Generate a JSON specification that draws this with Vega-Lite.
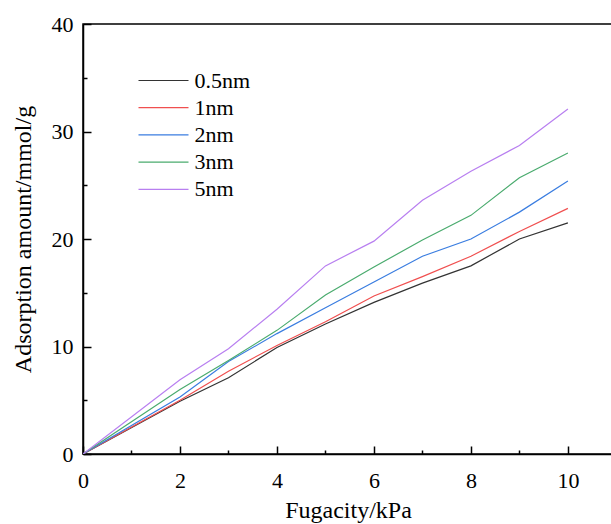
{
  "$schema": "https://vega.github.io/schema/vega-lite/v6.json",
  "width": 530,
  "height": 430,
  "autosize": {"type": "none"},
  "padding": {"left": 83, "top": 24, "right": 0, "bottom": 70},
  "background": "white",
  "config": {
    "font": "Liberation Serif, serif",
    "view": {"stroke": "black", "strokeWidth": 1.5}
  },
  "data": {
    "values": [
      {"series": "0.5nm", "x": 0, "y": 0},
      {"series": "0.5nm", "x": 2, "y": 4.9},
      {"series": "0.5nm", "x": 3, "y": 7.1},
      {"series": "0.5nm", "x": 4, "y": 9.9},
      {"series": "0.5nm", "x": 5, "y": 12.1},
      {"series": "0.5nm", "x": 6, "y": 14.1},
      {"series": "0.5nm", "x": 7, "y": 15.9},
      {"series": "0.5nm", "x": 8, "y": 17.5},
      {"series": "0.5nm", "x": 9, "y": 20.0},
      {"series": "0.5nm", "x": 10, "y": 21.5},
      {"series": "1nm", "x": 0, "y": 0},
      {"series": "1nm", "x": 2, "y": 5.0},
      {"series": "1nm", "x": 3, "y": 7.7},
      {"series": "1nm", "x": 4, "y": 10.1},
      {"series": "1nm", "x": 5, "y": 12.3},
      {"series": "1nm", "x": 6, "y": 14.7},
      {"series": "1nm", "x": 7, "y": 16.5},
      {"series": "1nm", "x": 8, "y": 18.4},
      {"series": "1nm", "x": 9, "y": 20.7},
      {"series": "1nm", "x": 10, "y": 22.85},
      {"series": "2nm", "x": 0, "y": 0},
      {"series": "2nm", "x": 2, "y": 5.3},
      {"series": "2nm", "x": 3, "y": 8.6},
      {"series": "2nm", "x": 4, "y": 11.2},
      {"series": "2nm", "x": 5, "y": 13.6},
      {"series": "2nm", "x": 6, "y": 16.0},
      {"series": "2nm", "x": 7, "y": 18.4},
      {"series": "2nm", "x": 8, "y": 20.0},
      {"series": "2nm", "x": 9, "y": 22.5},
      {"series": "2nm", "x": 10, "y": 25.4},
      {"series": "3nm", "x": 0, "y": 0},
      {"series": "3nm", "x": 2, "y": 6.0},
      {"series": "3nm", "x": 3, "y": 8.7},
      {"series": "3nm", "x": 4, "y": 11.5},
      {"series": "3nm", "x": 5, "y": 14.8},
      {"series": "3nm", "x": 6, "y": 17.4},
      {"series": "3nm", "x": 7, "y": 19.9},
      {"series": "3nm", "x": 8, "y": 22.2},
      {"series": "3nm", "x": 9, "y": 25.7},
      {"series": "3nm", "x": 10, "y": 28.0},
      {"series": "5nm", "x": 0, "y": 0},
      {"series": "5nm", "x": 2, "y": 6.9},
      {"series": "5nm", "x": 3, "y": 9.8},
      {"series": "5nm", "x": 4, "y": 13.46},
      {"series": "5nm", "x": 5, "y": 17.5},
      {"series": "5nm", "x": 6, "y": 19.8},
      {"series": "5nm", "x": 7, "y": 23.6},
      {"series": "5nm", "x": 8, "y": 26.3},
      {"series": "5nm", "x": 9, "y": 28.7},
      {"series": "5nm", "x": 10, "y": 32.1}
    ]
  },
  "mark": {"type": "line", "strokeWidth": 1.2, "clip": true},
  "encoding": {
    "x": {
      "field": "x", "type": "quantitative",
      "scale": {"domain": [0, 10.93], "nice": false, "zero": false},
      "axis": {
        "title": "Fugacity/kPa",
        "grid": false,
        "domainColor": "black", "domainWidth": 1.5,
        "tickColor": "black", "tickWidth": 1.5,
        "labelColor": "black", "titleColor": "black",
        "labelFont": "Liberation Serif, serif", "titleFont": "Liberation Serif, serif",
        "labelFontSize": 22, "titleFontSize": 24, "titleFontWeight": "normal",
        "values": [0, 1, 2, 3, 4, 5, 6, 7, 8, 9, 10],
        "labelExpr": "datum.value % 2 ? '' : datum.label",
        "tickSize": {"condition": {"test": "datum.value % 2 === 1", "value": -4}, "value": -8},
        "labelPadding": 24,
        "titlePadding": 3,
        "labelFlush": false,
        "labelOverlap": false
      }
    },
    "y": {
      "field": "y", "type": "quantitative",
      "scale": {"domain": [0, 40], "nice": false},
      "axis": {
        "title": "Adsorption amount/mmol/g",
        "grid": false,
        "domainColor": "black", "domainWidth": 1.5,
        "tickColor": "black", "tickWidth": 1.5,
        "labelColor": "black", "titleColor": "black",
        "labelFont": "Liberation Serif, serif", "titleFont": "Liberation Serif, serif",
        "labelFontSize": 22, "titleFontSize": 24, "titleFontWeight": "normal",
        "values": [0, 5, 10, 15, 20, 25, 30, 35, 40],
        "labelExpr": "datum.value % 10 ? '' : datum.label",
        "tickSize": {"condition": {"test": "datum.value % 10 === 5", "value": -4}, "value": -8},
        "labelPadding": 18,
        "titlePadding": 16,
        "labelFlush": false,
        "labelOverlap": false
      }
    },
    "color": {
      "field": "series", "type": "nominal",
      "scale": {"domain": ["0.5nm", "1nm", "2nm", "3nm", "5nm"], "range": ["#333333", "#f04f4f", "#3a7de0", "#4aab6e", "#b87ff0"]},
      "legend": {
        "title": null,
        "orient": "none",
        "legendX": 69.5,
        "legendY": 45.5,
        "padding": 0,
        "labelFont": "Liberation Serif, serif",
        "labelFontSize": 22,
        "labelColor": "black",
        "symbolType": "M-5,0H5",
        "symbolSize": 100,
        "symbolStrokeWidth": 1.2,
        "labelOffset": 20,
        "rowPadding": 5.2
      }
    }
  }
}
